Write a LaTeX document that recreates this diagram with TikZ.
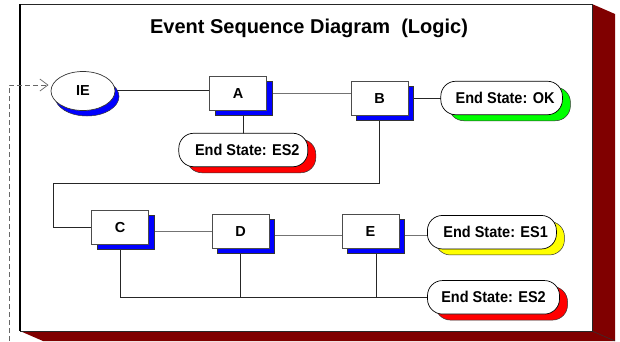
\documentclass[tikz,border=0pt]{standalone}
\usepackage{fontspec}
\setmainfont{Liberation Sans}
\usetikzlibrary{shadows,shapes.geometric,arrows.meta}
\pgfdeclarelayer{frame}
\pgfdeclarelayer{wires}
\pgfsetlayers{frame,wires,main}
\definecolor{framered}{RGB}{128,0,0}
\definecolor{esgreen}{RGB}{0,255,0}
\definecolor{esyellow}{RGB}{255,255,0}
\definecolor{esred}{RGB}{255,0,0}
\definecolor{esblue}{RGB}{0,0,255}
\newcommand{\tallText}[1]{\scalebox{1}[1.08]{#1}}
\tikzset{
  lbl/.style={font=\fontsize{14.5}{16}\selectfont\bfseries},
  evbox/.style={lbl, draw=black!70, line width=0.8pt, fill=white,
    minimum width=57pt, minimum height=34pt, inner sep=0pt,
    general shadow={shadow xshift=5.5pt, shadow yshift=-5pt, fill=esblue, draw=black!80, line width=0.5pt}},
  ieshape/.style={lbl, ellipse, draw=black!80, line width=0.7pt, fill=white,
    minimum width=64pt, minimum height=39pt, inner sep=0pt,
    general shadow={shadow xshift=4pt, shadow yshift=-5.5pt, fill=esblue, draw=black!80, line width=0.5pt}},
  espill/.style={lbl, draw=black, line width=0.7pt, fill=white, rounded corners=15pt,
    minimum height=33.5pt, inner sep=0pt,
    general shadow={shadow xshift=8pt, shadow yshift=-6pt, fill=#1, draw=black!80, line width=0.5pt}},
  wire/.style={draw=black!85, line width=0.8pt},
  wiregray/.style={draw=black!55, line width=0.8pt},
}
\begin{document}
\begin{tikzpicture}[x=1pt,y=-1pt]
\useasboundingbox (0,0) rectangle (620,341);
% frame
\begin{pgfonlayer}{frame}
  \fill[framered] (592,4) -- (615,14) -- (615,341) -- (43,341) -- (20,331) -- cycle;
  \draw[black!80, line width=0.5pt] (592,331) -- (615,341);
  \draw[fill=white, draw=black!85, line width=1pt] (20,4) rectangle (592,331);
  \draw[black, line width=1.8pt] (20,4) -- (20,331);
\end{pgfonlayer}
% title
\node[font=\fontsize{20}{24}\selectfont\bfseries] (title) at (309,28) {Event Sequence Diagram\ \ (Logic)};
% nodes
\node[ieshape] (IE) at (83,91) {IE};
\node[evbox] (A) at (238,93.3) {A};
\node[evbox] (B) at (379.5,98.5) {B};
\node[evbox] (C) at (120,227.5) {C};
\node[evbox] (D) at (240.7,231.3) {D};
\node[evbox] (E) at (370.5,231.3) {E};
\node[espill=esred, minimum width=129pt] (ES2a) at (243.3,150) {\hspace*{8pt}\tallText{End State: ES2}};
\node[espill=esgreen, minimum width=121.6pt] (OK) at (501.6,98) {\hspace*{7pt}\tallText{End State: OK}};
\node[espill=esyellow, minimum width=129pt] (ES1) at (491.9,232.2) {\hspace*{7.5pt}\tallText{End State: ES1}};
\node[espill=esred, minimum width=132pt] (ES2b) at (493.5,297.3) {\tallText{End State: ES2}};
% dashed entry arrow
\coordinate (dbot) at (9,341);
\coordinate (dtip) at (48.5,85);
\draw[black!60, line width=0.7pt, dash pattern=on 5pt off 3pt,
  -{Straight Barb[length=8pt,width=12pt,line width=0.7pt]}] (dbot) |- (dtip);
% connectors
\begin{pgfonlayer}{wires}
  \draw[wire] ([yshift=1pt]IE.center) -- ([yshift=1pt]IE.center -| A.center);
  \draw[wiregray] (A.center) -- (A.center -| B.center);
  \draw[wire] (B.center) -- (B.center -| OK.center);
  \draw[wire] ([xshift=5.5pt]A.center) -- ([xshift=5.5pt]A.center |- ES2a.center);
  \coordinate (bcturn) at (53.3,183);
  \draw[wire] (B.center) |- (bcturn) |- (C.center);
  \draw[wiregray] (D.center -| C.center) -- (D.center);
  \draw[wiregray] ([yshift=-4pt]D.center) -- ([yshift=-4pt]E.center);
  \draw[wiregray] ([yshift=-4pt]E.center) -- ([yshift=-4pt]E.center -| ES1.center);
  \draw[wire] (C.center) |- (ES2b.center);
  \draw[wire] (D.center) -- (D.center |- ES2b.center);
  \draw[wire] ([xshift=5.5pt]E.center) -- ([xshift=5.5pt]E.center |- ES2b.center);
\end{pgfonlayer}
\end{tikzpicture}
\end{document}
